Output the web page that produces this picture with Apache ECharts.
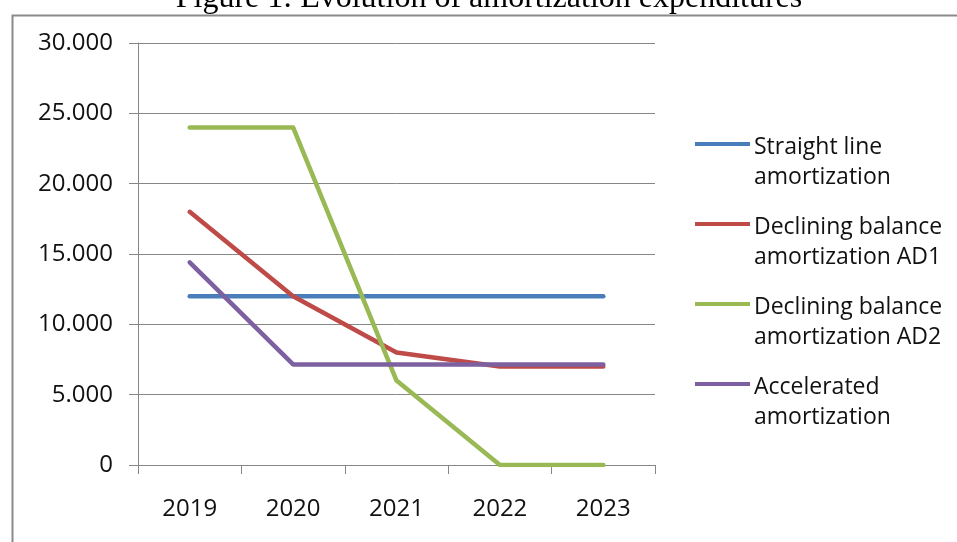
<!DOCTYPE html>
<html>
<head>
<meta charset="utf-8">
<style>
  html, body { margin: 0; padding: 0; background: #ffffff; }
  #chart { width: 957px; height: 542px; }
</style>
<script src="https://cdn.jsdelivr.net/npm/echarts@6/dist/echarts.min.js"></script>
</head>
<body>
<div id="chart"></div>
<script>
// Amortization schedules, 2019-2023
const years = ['2019', '2020', '2021', '2022', '2023'];
const straightLine = [12000, 12000, 12000, 12000, 12000];
const decliningAD1 = [18000, 12000, 8000, 7000, 7000];
const decliningAD2 = [24000, 24000, 6000, 0, 0];
const accelerated = [14400, 7150, 7150, 7150, 7150];

const seriesNames = [
  'Straight line\namortization',
  'Declining balance\namortization AD1',
  'Declining balance\namortization AD2',
  'Accelerated\namortization'
];
const seriesColors = ['#4a7ebb', '#be4b48', '#98b954', '#7d60a0'];
const seriesValues = [straightLine, decliningAD1, decliningAD2, accelerated];

const titleText = 'Figure 1: Evolution of amortization expenditures';

const axisGray = '#878787';
const uiFont = '"Open Sans", "Noto Sans", sans-serif';

// thousands separator written with a dot
function fmtThousands(v) {
  if (v === 0) return '0';
  const s = String(Math.round(v));
  return s.replace(/\B(?=(\d{3})+(?!\d))/g, '.');
}

const chart = echarts.init(document.getElementById('chart'), null, { renderer: 'canvas' });

chart.setOption({
  backgroundColor: '#ffffff',
  animation: false,
  graphic: [
    {
      type: 'rect',
      left: 10, top: 13,
      shape: { x: 0, y: 0, width: 1000, height: 600 },
      style: { fill: 'none', stroke: '#8a8a8a', lineWidth: 2 },
      silent: true
    },
    {
      type: 'text',
      x: 489, y: -1,
      style: {
        text: titleText,
        font: '32px "Liberation Serif", "Times New Roman", serif',
        fill: '#000000',
        align: 'center',
        verticalAlign: 'middle'
      },
      silent: true
    }
  ],
  grid: { left: 138, right: 302, top: 43, bottom: 77 },
  legend: {
    orient: 'vertical',
    left: 695,
    top: 132,
    padding: 0,
    itemWidth: 55,
    itemHeight: 61,
    itemGap: 19,
    symbolKeepAspect: false,
    icon: 'path://M0,0M55,61M0,10L55,10L55,14L0,14Z',
    itemStyle: { borderWidth: 0 },
    selectedMode: false,
    textStyle: {
      fontFamily: uiFont,
      fontSize: 23,
      lineHeight: 30.5,
      color: '#111111',
      padding: [0, 0, 0, -1]
    },
    data: seriesNames
  },
  xAxis: {
    type: 'category',
    data: years,
    boundaryGap: true,
    axisLine: { show: true, lineStyle: { color: axisGray, width: 1 } },
    axisTick: { show: true, length: 9, alignWithLabel: false, lineStyle: { color: axisGray } },
    axisLabel: {
      margin: 32,
      fontFamily: uiFont,
      fontSize: 24,
      color: '#111111'
    },
    splitLine: { show: false }
  },
  yAxis: {
    type: 'value',
    min: 0,
    max: 30000,
    interval: 5000,
    axisLine: { show: true, lineStyle: { color: axisGray, width: 1 } },
    axisTick: { show: true, length: 9, lineStyle: { color: axisGray } },
    axisLabel: {
      margin: 25,
      fontFamily: uiFont,
      fontSize: 24,
      color: '#111111',
      formatter: fmtThousands
    },
    splitLine: { show: true, lineStyle: { color: axisGray, width: 1 } }
  },
  series: seriesNames.map((name, i) => ({
    name: name,
    type: 'line',
    data: seriesValues[i],
    symbol: 'none',
    showSymbol: false,
    color: seriesColors[i],
    lineStyle: { color: seriesColors[i], width: 4.5, cap: 'round', join: 'round' },
    z: 2 + i
  }))
});
</script>
</body>
</html>
